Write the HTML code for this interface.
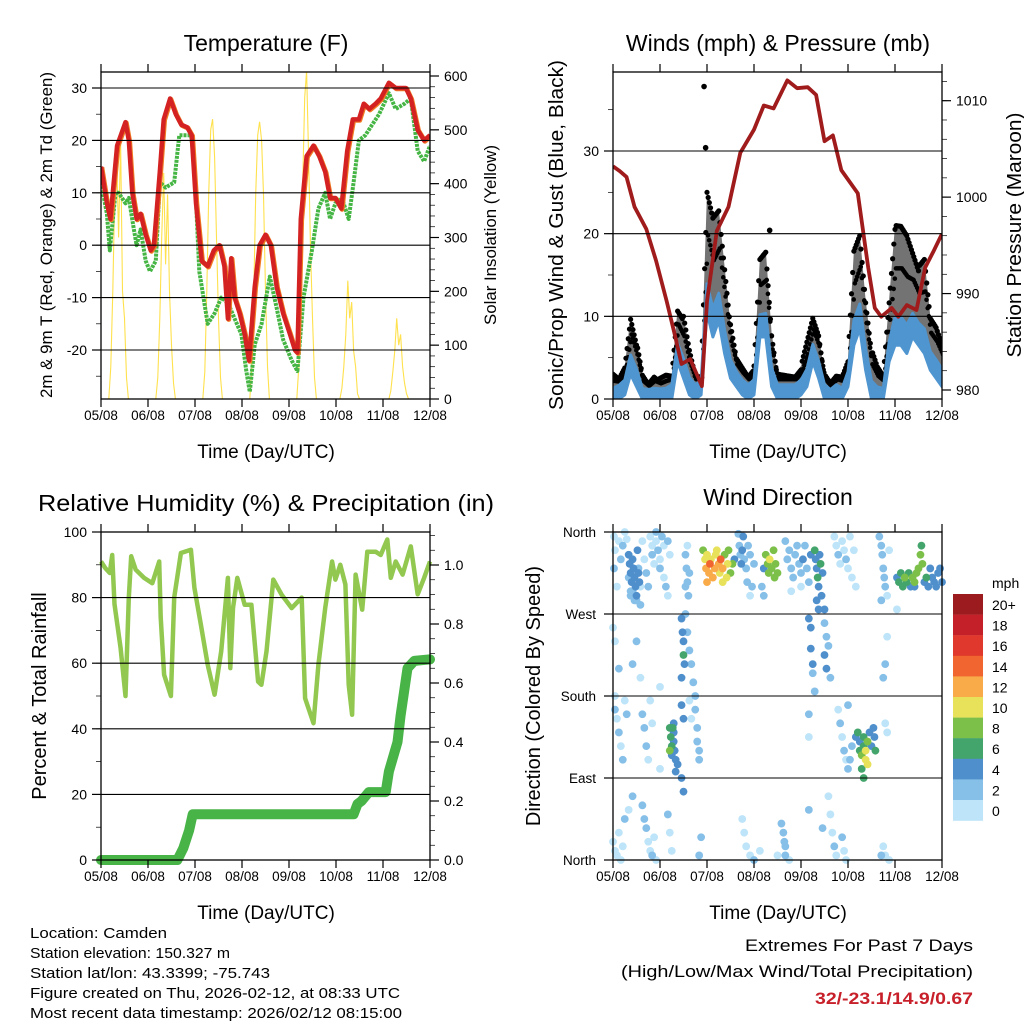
<!DOCTYPE html>
<html><head><meta charset="utf-8"><title>Station meteogram</title>
<style>
html,body{margin:0;padding:0;background:#fff;}
svg{display:block;font-family:"Liberation Sans",Arial,sans-serif;}
</style></head>
<body>
<svg id="chart" width="1024" height="1024" viewBox="0 0 1024 1024" xmlns="http://www.w3.org/2000/svg">
<rect x="0" y="0" width="1024" height="1024" fill="#fff"/>
<g id="layer"></g>
</svg>
<script>
// ---------- DATA ----------
const dayLabels = ["05/08","06/08","07/08","08/08","09/08","10/08","11/08","12/08"];
// Temperature (F)
const tempHours = [0,3,4.8,8.2,12.5,14.2,16,18.2,20.2,22.8,25.4,27,30,32,35.3,38.2,41,44,46.3,48.5,51.4,54.5,57.6,60.5,63,64.8,66.5,68.2,70.8,73.4,75.6,78.5,81,84,86.7,89.7,93,96.5,99,100.3,102,105,108.5,111.4,114.5,117,119.7,122.7,125.7,128.6,131.7,134.2,137,140.2,142.8,147,150.5,155.7,158.2,161.7,165,168];
const tempValues = [15,8,5,19,23.5,20,10,5,6,2,-1,0,14,24,28,25,23,22.5,21,8,-3,-4,-1,0,-4,-14,-2.5,-10,-13,-17,-22,-8,0,2,0,-8,-13,-17,-20,-20.5,5,17,19,17,14,9,9,7,18,24,24,27,26,27,28,31,30,30,28,22,20,21];
const dewHours = [0,3,4.5,7.4,9,12.5,14.2,16.8,18.2,20.2,22.8,25,28,30,33,37.4,40,46,47.7,50.2,54.5,58,61.4,64.8,68.2,71.7,74.2,76,78.5,82,86.2,89.7,93,97.4,100.3,103.4,107.7,111,114.5,117,119.7,123,126.5,129,131.7,135,138.5,142,147,150.5,155,158.2,161.7,165,168];
const dewValues = [12,6,-1,10,10,8,9,3,0,3,-3,-5,-3,12,11,12,21,21,15,-5,-15,-13,-10,-11,-14,-17,-24,-28,-19,-15,-6,-12,-18,-22,-24,-10,-1,7,10,5,8,9,5,12,20,21,23,25,29,26,27,28,18,16,19];
// Solar insolation: peak hour per day and hourly values from peak-5h to peak+5h
const solarPeaks = [9,33,57,81,105,127,152];
const solarDay1 = [0,60,200,380,450,300,480,200,150,40,0];
const solarDay2 = [0,40,150,300,420,250,380,200,100,30,0];
const solarDay3 = [0,50,200,380,500,520,450,300,150,40,0];
const solarDay4 = [0,60,200,380,490,515,480,380,200,60,0];
const solarDay5 = [0,60,220,400,560,610,450,280,150,40,0];
const solarDay6 = [0,20,60,120,220,150,180,90,60,10,0];
const solarDay7 = [0,15,50,90,150,100,120,60,30,10,0];
// Winds (mph), every 3 h
const windHours = [0,3,6,9,12,15,18,21,24,27,30,33,36,39,42,45,48,51,54,57,60,63,66,69,72,75,78,81,84,87,90,93,96,99,102,105,108,111,114,117,120,123,126,129,132,135,138,141,144,147,150,153,156,159,162,165,168];
const windSpeed = [1,1.5,2,4.5,3,1,1,1,1,1,1.5,6,4,2,1.5,2,12,9,11,7,4,3,2,1.5,2,9,9,3,1.5,1.5,1.5,1.5,2,3,6,4,1.5,1,1.5,1,3,8,10,5,1.5,1,1,6,8,8,7,9,8,7,5,4,3];
const windGust = [3,2.5,4,10,7,3,2,3,2.5,3,3,11,10,6,3,3,25,22,23,16,9,5,4,3,4,17,18,8,3,3,3,3,4,7,10,8,3,2,3,3,5,18,20,12,6,4,3,12,21,21,20,18,16,17,10,9,7];
const gustOutlierHours = [46.5,47.3,80];
const gustOutlierValues = [37.8,30.4,20.4];
// Pressure (mb)
const presHours = [0,3.4,6.9,11,17,22,27.4,31.7,35,39.4,45.4,48,53,59,65,72,77,82,89,94,99.4,103.7,108,112.3,116.6,125,130.3,133.7,137,142.3,145.7,150,155,159.4,163.7,168];
const presValues = [1003.2,1002.7,1002.1,999,996.7,993.4,989.2,985.6,982.7,983.2,980.4,989.2,996.5,999,1004.6,1007,1009.5,1009.2,1012.1,1011.3,1011.4,1010.6,1005.8,1006.4,1002.8,1000.4,992.7,988.5,987.6,988.5,987.6,988.8,988.3,992.7,994.4,996.2];
// Relative humidity (%)
const rhHours = [0,2.2,4.5,5.7,6.9,10,12.5,14.2,15.4,17.7,22,26.2,29.7,30.5,32.2,35.7,37.4,40.8,45.9,47.7,51,54.5,58,61.4,64.8,66,67.4,69.6,73.4,76.8,80.2,81.9,84.5,88,92.2,97.4,102.5,104.2,108.5,111,114.5,118,119.7,122.2,124.8,126.5,128.2,130,133.4,136,140.2,142.8,146.2,148,150.5,154,158.2,161.7,165,168];
const rhValues = [91,89,87.5,93,78,64.6,50,80,92.6,88.5,86,84.4,91,74,56.5,50,80,93.6,94.6,83,71.7,59.5,50.4,63.6,86,58.5,76.8,86,77.8,77.8,54.4,53.4,63.6,85.5,80.9,76.8,80,49.3,41.7,59.5,76.8,91,85.5,90,84,53.4,44.3,87,76.3,94,94,93,97.7,86,91,87,95.6,81,86,91];
// Total precipitation (in)
const precipHours = [0,39,42,45,46.8,129,131,133,136.8,145.4,147,151.4,153,156.5,160,168];
const precipValues = [0,0,0.04,0.1,0.155,0.155,0.19,0.2,0.23,0.23,0.3,0.4,0.49,0.65,0.675,0.68];
// Wind direction: hour, direction (deg), speed (mph)
const dirHours = [0.5,1,0.5,2,3,4,5,6,7,8,9,12,15,16,17,18,19,20,20,21,22,22,23,24,24,25,26,26,27,28,28,29,14,13,
8,8.5,9,9.5,10,10.5,11,11.5,12,12.5,13,13.5,10,11,14,9,
37,37.5,38,38.5,39,37,38,
46,47,47.5,48,49,49.5,50,51,52,52.5,53,54,54.5,55,56,57,58,58.5,59,60,61,62,48,56,
64,64.5,65,65.5,66,66.5,67,68,68.5,69,70,71,72,70,
78,79,79.5,80,81,82,83,84,82.5,77,76,77,
88,89,90,91,92,93,94,95,96,97,98,99,100,101,91,96,
103,103.5,104,104.5,105,105.5,106,106.5,107,104,
113,114,115,116,117,118,119,120,121,122,123,124,
136,137,137.5,138,138.5,139,140,141,137,
145,146,147,148,149,150,151,152,153,154,155,156,157,157.5,158,159,160,161,162,163,164,165,166,167,168,154,
35,35.5,36,36,36.5,35,35,36,37,38,39,40,41,42,42,43,43,44,44,35,36,
100,101,101,102,102,103,108,108,109,108,109,110,111,100,100,105,
29,29.5,30,30,31,31,31.5,32,29,30.5,33,32,31,
125,126,126,127,128,128,129,129,130,131,132,133,133.5,134,127,128,124,122,121,120,130,
0,1,2,3,4,5,6,8,10,15,16,17,18,19,20,21,22,28,29,30,44,45,66,67,68,70,72,75,84,86,87,87.5,88,88,90,100,107,110,111,112,113,114,117,118,119,137,138,139,141,
1,1,2,3,4,5,6,7,15,16,17,18,19,20,0,1,12,3,10,14,24,24,39,40,115,116,117,118,119,120,139,140,138,139,145,140];
const dirValues = [355,340,320,300,350,330,345,360,352,310,295,285,350,330,315,300,355,345,335,325,360,350,340,330,320,355,345,310,300,350,290,335,300,320,
335,325,315,305,330,320,310,300,290,340,315,305,295,285,280,290,
335,320,305,290,315,300,345,
340,330,320,335,315,325,330,310,320,335,340,325,315,330,320,335,310,325,340,315,325,330,305,305,
358,345,335,325,340,355,330,320,305,345,335,300,325,290,
335,325,315,330,320,340,325,315,310,320,300,290,
350,330,340,320,310,335,345,325,315,330,345,320,305,335,295,300,
340,330,320,310,300,335,325,290,315,285,
355,345,335,325,350,340,330,320,355,310,340,300,
355,345,335,320,310,300,290,340,285,
310,305,315,300,310,305,315,300,310,305,315,320,335,345,325,305,310,300,320,310,305,300,315,320,305,300,
265,250,240,225,215,200,170,155,270,250,230,215,195,180,165,145,130,120,110,90,75,
265,255,232,215,205,185,275,260,245,225,210,235,200,160,135,275,
145,135,125,115,140,130,120,110,120,145,105,97,150,
140,130,120,115,125,135,120,110,130,140,125,145,135,120,100,90,135,125,110,100,105,
20,10,5,30,0,15,45,55,70,60,45,35,20,10,5,25,0,50,30,10,5,25,45,30,15,5,0,10,5,40,30,20,15,5,0,55,35,70,50,30,15,5,25,10,0,5,15,5,0,
180,165,155,140,125,110,175,160,160,145,125,110,175,150,255,240,240,210,215,200,190,100,175,155,165,150,135,120,110,170,150,140,200,215,275,245];
const dirSpeeds = [0,0,1,0,0,1,1,0,0,1,1,1,0,0,1,1,0,0,1,0,1,0,1,0,1,1,0,0,1,1,0,0,0,1,
3,4,4,3,4,4,4,3,3,3,4,3,2,2,2,2,
1,2,2,1,2,1,0,
8,9,12,10,11,14,10,12,11,10,9,12,10,14,11,8,10,9,8,8,7,4,12,10,
1,2,2,3,3,3,2,1,1,2,1,1,1,0,
8,8,7,10,8,8,7,8,8,4,2,2,
2,1,2,2,1,2,2,1,2,3,1,2,1,3,0,0,
6,4,4,5,4,4,5,4,4,4,
0,0,1,0,0,0,1,0,0,0,0,0,
1,2,1,2,1,1,0,0,1,
4,5,6,5,8,6,5,4,8,8,7,8,8,6,8,4,5,4,4,4,3,4,4,4,3,4,
4,4,4,5,4,4,4,3,2,2,2,2,2,2,2,1,2,2,2,4,3,
4,3,4,3,2,2,3,2,2,4,4,2,2,1,0,3,
6,6,6,4,4,4,4,4,8,6,4,4,4,
6,4,6,8,6,6,10,10,8,4,4,4,4,6,6,6,4,2,2,2,9,
0,0,0,0,0,0,1,0,1,1,1,1,0,0,1,0,0,1,0,0,1,2,0,0,0,0,1,0,0,1,2,2,1,1,0,1,1,0,0,0,1,0,1,0,0,2,0,0,0,
0,2,0,1,0,1,0,1,1,1,1,0,0,0,0,0,2,1,1,0,0,0,0,0,0,1,0,1,0,1,0,0,1,1,0,0];
const speedLabels = ["20+","18","16","14","12","10","8","6","4","2","0"];
const speedColors = ["#9b1b1e","#c4202a","#e0382c","#f06530","#f9ab4a","#e8e15a","#7cc04a","#44a56c","#4f8fcb","#86bfe8","#bde4f8"];
const tempTicks = [30,20,10,0,-10,-20];
const solarTicks = [600,500,400,300,200,100,0];
const windTicks = [0,10,20,30];
const presTicks = [980,990,1000,1010];
const rhTicks = [0,20,40,60,80,100];
const precipTicks = [0,0.2,0.4,0.6,0.8,1.0];
const dirTickValues = [360,270,180,90,0];
const dirTickLabels = ["North","West","South","East","North"];

// ---------- HELPERS ----------
const NS = "http://www.w3.org/2000/svg";
const layer = document.getElementById("layer");
function mk(tag, attrs, parent) {
  const e = document.createElementNS(NS, tag);
  for (const k in attrs) e.setAttribute(k, attrs[k]);
  (parent || layer).appendChild(e);
  return e;
}
function txt(str, attrs, parent) { const t = mk("text", attrs, parent); t.textContent = str; return t; }
function lin(d0, d1, r0, r1) { return v => r0 + (v - d0) / (d1 - d0) * (r1 - r0); }
function pathFrom(xs, ys, xf, yf) {
  let d = "";
  for (let i = 0; i < xs.length; i++) d += (i ? "L" : "M") + xf(xs[i]).toFixed(1) + "," + yf(ys[i]).toFixed(1);
  return d;
}
function interp(xs, ys, t) {
  if (t <= xs[0]) return ys[0];
  for (let i = 1; i < xs.length; i++) if (t <= xs[i]) { const f = (t - xs[i-1]) / (xs[i] - xs[i-1]); return ys[i-1] + f * (ys[i] - ys[i-1]); }
  return ys[ys.length - 1];
}
function frame(P, name) {
  const g = mk("g", {});
  
  
  mk("rect", {x: P.x0, y: P.y0, width: P.x1 - P.x0, height: P.y1 - P.y0, fill: "none", stroke: "#000", "stroke-width": 1.3}, g);
  const xs = lin(0, 168, P.x0, P.x1);
  for (let d = 0; d <= 7; d++) {
    const x = xs(d * 24);
    mk("line", {x1: x, x2: x, y1: P.y1, y2: P.y1 + 8, stroke: "#000", "stroke-width": 1.2}, g);
    mk("line", {x1: x, x2: x, y1: P.y0, y2: P.y0 - 8, stroke: "#000", "stroke-width": 1.2}, g);
    const t = txt(dayLabels[d], {x: x, y: P.y1 + 21, "text-anchor": "middle", "font-size": 13.5, fill: "#000"}, g);
    
    
  }
  return g;
}
function yAxis(P, ticks, yf, side, minorStep, lo, hi, fmt, name, grid) {
  const g = mk("g", {});
  
  
  const ax = side === "left" ? P.x0 : P.x1, dir = side === "left" ? -1 : 1;
  if (minorStep) for (let v = lo; v <= hi + 1e-9; v += minorStep) {
    const y = yf(v); if (y < P.y0 - 0.5 || y > P.y1 + 0.5) continue;
    mk("line", {x1: ax, x2: ax + dir * 5, y1: y, y2: y, stroke: "#000", "stroke-width": 0.7}, g);
  }
  ticks.forEach((v, i) => {
    const y = yf(v);
    mk("line", {x1: ax, x2: ax + dir * 9, y1: y, y2: y, stroke: "#000", "stroke-width": 1.2}, g);
    if (grid && y > P.y0 + 1 && y < P.y1 - 1) mk("line", {x1: P.x0, x2: P.x1, y1: y, y2: y, stroke: "#000", "stroke-width": 1.1}, g);
    const t = txt(fmt(v, i), {x: ax + dir * 14, y: y + 5, "text-anchor": side === "left" ? "end" : "start", "font-size": 14, fill: "#000"}, g);
    
    
  });
}
function label(str, x, y, size, rot, len, name, extra) {
  const a = {x: x, y: y, "text-anchor": "middle", "font-size": size, fill: "#000"};
  if (rot) a.transform = "rotate(-90 " + x + " " + y + ")";
  if (len) { a.textLength = len; a.lengthAdjust = "spacingAndGlyphs"; }
  Object.assign(a, extra || {});
  const t = txt(str, a);
  
  
  return t;
}

// ---------- PANEL 1: TEMPERATURE ----------
const P1 = {x0: 101, x1: 430, y0: 72, y1: 399};
const x1s = lin(0, 168, P1.x0, P1.x1);
const yT = lin(-20, 30, 350, 88);
const yS = lin(0, 600, 399, 76);
(function () {
  const clip = mk("clipPath", {id: "c1"}); mk("rect", {x: P1.x0, y: P1.y0, width: P1.x1 - P1.x0, height: P1.y1 - P1.y0}, clip);
  const g = mk("g", {"clip-path": "url(#c1)"});
  
  
  const days = [solarDay1, solarDay2, solarDay3, solarDay4, solarDay5, solarDay6, solarDay7];
  days.forEach((vals, di) => {
    const hrs = vals.map((v, k) => solarPeaks[di] - 5 + k);
    const p = mk("path", {d: pathFrom(hrs, vals, x1s, yS), fill: "none", stroke: "#ffe14d", "stroke-width": 1.1}, g);
    
    
  });
  const dp = mk("path", {d: pathFrom(dewHours, dewValues, x1s, yT), fill: "none", stroke: "#45b544", "stroke-width": 4, "stroke-dasharray": "3 1", "stroke-linejoin": "round"}, g);
  
  
  const op = mk("path", {d: pathFrom(tempHours, tempValues, x1s, yT), fill: "none", stroke: "#f07a22", "stroke-width": 5, "stroke-linejoin": "round", transform: "translate(0.8,0.8)"}, g);
  
  
  const tp = mk("path", {d: pathFrom(tempHours, tempValues, x1s, yT), fill: "none", stroke: "#d42222", "stroke-width": 4.5, "stroke-linejoin": "round"}, g);
  
  
})();
frame(P1, "temperature");
yAxis(P1, tempTicks, yT, "left", 5, -25, 30, v => String(v), "temperature-y-axis", true);
yAxis(P1, solarTicks, yS, "right", 20, 0, 600, v => String(v), "solar-y-axis", false);
label("Temperature (F)", 266, 51, 23, false, 0, "temperature-title");
label("Time (Day/UTC)", 266, 458, 19, false, 0, "temperature-x-axis-title");
label("2m & 9m T (Red, Orange) & 2m Td (Green)", 52, 235, 17, true, 326, "temperature-y-axis-title");
label("Solar Insolation (Yellow)", 496, 235, 17, true, 180, "solar-y-axis-title");

// ---------- PANEL 2: WINDS & PRESSURE ----------
const P2 = {x0: 613, x1: 942, y0: 72, y1: 399};
const x2s = lin(0, 168, P2.x0, P2.x1);
const yW = lin(0, 30, 399, 151);
const yP = lin(980, 1010, 390, 100.7);
(function () {
  const clip = mk("clipPath", {id: "c2"}); mk("rect", {x: P2.x0, y: P2.y0 - 2, width: P2.x1 - P2.x0, height: P2.y1 - P2.y0 + 2}, clip);
  const g = mk("g", {"clip-path": "url(#c2)"});
  
  
  let d = pathFrom(windHours, windGust, x2s, yW);
  for (let i = windHours.length - 1; i >= 0; i--) d += "L" + x2s(windHours[i]).toFixed(1) + "," + yW(windSpeed[i]).toFixed(1);
  const area = mk("path", {d: d + "Z", fill: "#000", "fill-opacity": 0.55, stroke: "none"}, g);
  
  
  for (let t = 0; t <= 168; t += 0.6) {
    const gv = interp(windHours, windGust, t);
    const c = mk("circle", {cx: x2s(t), cy: yW(gv) + ((t * 7) % 4), r: 2.6, fill: "#000"}, g);
    
    
    const wv = interp(windHours, windSpeed, t);
    const c2 = mk("circle", {cx: x2s(t) + 1, cy: yW(wv + (gv - wv) * 0.6), r: 2.3, fill: "#000"}, g);
    
    
  }
  gustOutlierHours.forEach((h, i) => {
    const c = mk("circle", {cx: x2s(h), cy: yW(gustOutlierValues[i]), r: 2.8, fill: "#000"}, g);
    
    
  });
  let wd = pathFrom(windHours, windSpeed.map((v, i) => v + (windGust[i] - v) * 0.15), x2s, yW);
  for (let i = windHours.length - 1; i >= 0; i--) wd += "L" + x2s(windHours[i]).toFixed(1) + "," + yW(Math.max(0, windSpeed[i] - 1.5)).toFixed(1);
  const wa = mk("path", {d: wd + "Z", fill: "#4f95d0", stroke: "#4f95d0", "stroke-width": 3, "stroke-linejoin": "round"}, g);
  
  
  const pp = mk("path", {d: pathFrom(presHours, presValues, x2s, yP), fill: "none", stroke: "#a01c1c", "stroke-width": 3.8, "stroke-linejoin": "round"}, g);
  
  
})();
frame(P2, "wind");
yAxis(P2, windTicks, yW, "left", 5, 0, 35, v => String(v), "wind-y-axis", true);
yAxis(P2, presTicks, yP, "right", 2, 980, 1012, v => String(v), "pressure-y-axis", false);
label("Winds (mph) & Pressure (mb)", 778, 51, 23, false, 0, "wind-title");
label("Time (Day/UTC)", 778, 458, 19, false, 0, "wind-x-axis-title");
label("Sonic/Prop Wind & Gust (Blue, Black)", 563, 235, 20, true, 350, "wind-y-axis-title");
label("Station Pressure (Maroon)", 1021, 235, 20, true, 245, "pressure-y-axis-title");

// ---------- PANEL 3: RH & PRECIP ----------
const P3 = {x0: 101, x1: 430, y0: 532, y1: 860};
const x3s = lin(0, 168, P3.x0, P3.x1);
const yR = lin(0, 100, 860, 532);
const yPr = lin(0, 1, 860, 565);
(function () {
  const g = mk("g", {});
  
  
  const rp = mk("path", {d: pathFrom(rhHours, rhValues, x3s, yR), fill: "none", stroke: "#92c850", "stroke-width": 4.5, "stroke-linejoin": "round"}, g);
  
  
  const pr = mk("path", {d: pathFrom(precipHours, precipValues, x3s, yPr), fill: "none", stroke: "#48b448", "stroke-width": 10, "stroke-linejoin": "round", "stroke-linecap": "round"}, g);
  
  
})();
frame(P3, "humidity");
yAxis(P3, rhTicks, yR, "left", 10, 0, 100, v => String(v), "humidity-y-axis", true);
yAxis(P3, precipTicks, yPr, "right", 0.05, 0, 1.1, v => v.toFixed(1), "precip-y-axis", false);
label("Relative Humidity (%) & Precipitation (in)", 266, 511, 23, false, 456, "humidity-title");
label("Time (Day/UTC)", 266, 919, 19, false, 0, "humidity-x-axis-title");
label("Percent & Total Rainfall", 46, 696, 20, true, 0, "humidity-y-axis-title");

// ---------- PANEL 4: WIND DIRECTION ----------
const P4 = {x0: 613, x1: 942, y0: 532, y1: 860};
const x4s = lin(0, 168, P4.x0, P4.x1);
const yD = lin(0, 360, 860, 532);
(function () {
  const g = mk("g", {});
  
  
  const order = dirSpeeds.map((s, i) => i).sort((a, b) => dirSpeeds[a] - dirSpeeds[b]);
  order.forEach(i => {
    const idx = 10 - Math.min(10, Math.round(dirSpeeds[i] / 2));
    const c = mk("circle", {cx: x4s(dirHours[i]), cy: yD(dirValues[i]), r: 3.9, fill: speedColors[idx]}, g);
    
    
  });
})();
frame(P4, "direction");
(function () {
  const g = mk("g", {});
  
  
  dirTickValues.forEach((v, i) => {
    const y = yD(v);
    mk("line", {x1: P4.x0 - 9, x2: P4.x0, y1: y, y2: y, stroke: "#000", "stroke-width": 1.2}, g);
    if (i > 0 && i < 4) mk("line", {x1: P4.x0, x2: P4.x1, y1: y, y2: y, stroke: "#000", "stroke-width": 1.1}, g);
    const t = txt(dirTickLabels[i], {x: P4.x0 - 17, y: y + 5, "text-anchor": "end", "font-size": 13.5, fill: "#000"}, g);
    
    
  });
})();
label("Wind Direction", 778, 505, 23, false, 0, "direction-title");
label("Time (Day/UTC)", 778, 919, 19, false, 0, "direction-x-axis-title");
label("Direction (Colored By Speed)", 540, 696, 20, true, 0, "direction-y-axis-title");
(function () {
  const g = mk("g", {});
  
  
  const t0 = txt("mph", {x: 992, y: 588, "font-size": 14, fill: "#000"}, g);
  
  
  speedColors.forEach((col, i) => {
    const y = 594 + i * 20.6;
    const r = mk("rect", {x: 953, y: y, width: 30, height: 20.8, fill: col}, g);
    
    
    const t = txt(speedLabels[i], {x: 992, y: y + 16, "font-size": 14, fill: "#000"}, g);
    
    
  });
})();

// ---------- FOOTER ----------
const footLeft = ["Location: Camden","Station elevation: 150.327 m","Station lat/lon: 43.3399; -75.743","Figure created on Thu, 2026-02-12, at 08:33 UTC","Most recent data timestamp: 2026/02/12 08:15:00"];
const footLens = [137, 200, 240, 370, 372];
footLeft.forEach((s, i) => {
  const t = txt(s, {x: 30, y: 938 + i * 20, "font-size": 15, fill: "#000", textLength: footLens[i], lengthAdjust: "spacingAndGlyphs"});
  
  
});
label("Extremes For Past 7 Days", 973, 951, 17, false, 228, "extremes-heading", {"text-anchor": "end"});
label("(High/Low/Max Wind/Total Precipitation)", 973, 977, 17, false, 352, "extremes-subheading", {"text-anchor": "end"});
label("32/-23.1/14.9/0.67", 973, 1004, 17, false, 158, "extremes-values", {"text-anchor": "end", fill: "#c8202a", "font-weight": "bold"});
</script>
</body></html>
